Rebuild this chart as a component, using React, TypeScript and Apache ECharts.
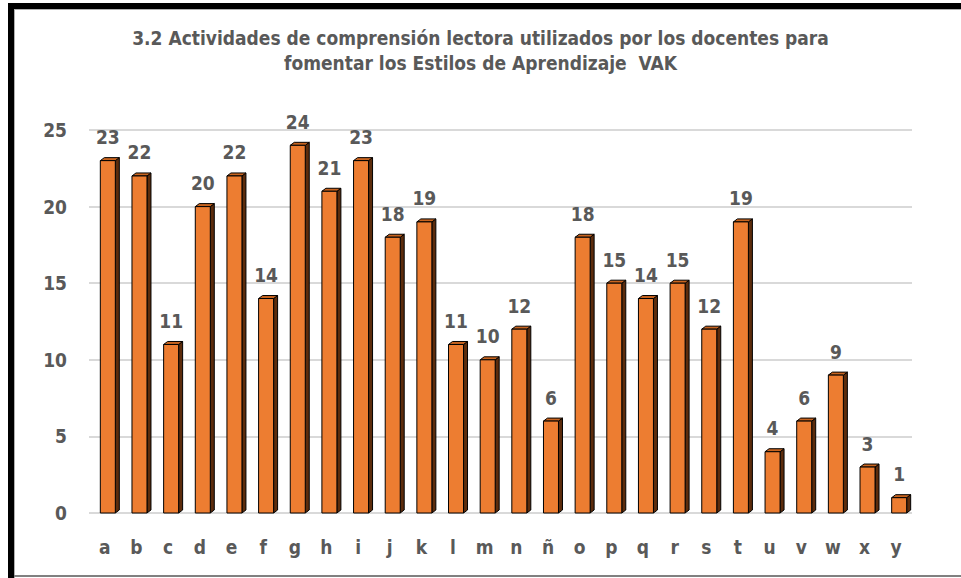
import React, { useEffect, useRef } from "react";
import * as echarts from "echarts";

const categories = ["a","b","c","d","e","f","g","h","i","j","k","l","m","n","ñ","o","p","q","r","s","t","u","v","w","x","y"];
const values = [23,22,11,20,22,14,24,21,23,18,19,11,10,12,6,18,15,14,15,12,19,4,6,9,3,1];
const yTicks = [0,5,10,15,20,25];
const titleLines = [
  "3.2 Actividades de comprensión lectora utilizados por los docentes para",
  "fomentar los Estilos de Aprendizaje  VAK",
];

const FONT = '"Liberation Sans Narrow", "DejaVu Sans Condensed", "Open Sans", sans-serif';
const GRAY = "#595959";

export default function App() {
  const ref = useRef<HTMLDivElement>(null);
  useEffect(() => {
    if (!ref.current) return;
    const chart = echarts.init(ref.current, null, { renderer: "svg" });
    const option: any = {
      animation: false,
      backgroundColor: "#ffffff",
      grid: { left: 89, right: 49, top: 130, bottom: 65, containLabel: false },
      xAxis: {
        type: "category",
        data: categories,
        axisLine: { show: false },
        axisTick: { show: false },
        axisLabel: { color: GRAY, fontFamily: FONT, fontWeight: "bold", fontSize: 19, margin: 24 },
      },
      yAxis: {
        type: "value",
        min: yTicks[0],
        max: yTicks[yTicks.length - 1],
        interval: 5,
        axisLine: { show: false },
        axisTick: { show: false },
        axisLabel: { color: GRAY, fontFamily: FONT, fontWeight: "bold", fontSize: 19, margin: 22 },
        splitLine: { lineStyle: { color: "#d9d9d9", width: 2 } },
      },
      graphic: [
        { type: "rect", shape: { x: 8, y: 3, width: 953, height: 6 }, style: { fill: "#000" }, z: 100 },
        { type: "rect", shape: { x: 8, y: 3, width: 6, height: 575 }, style: { fill: "#000" }, z: 100 },
        { type: "line", shape: { x1: 14, y1: 9.5, x2: 961, y2: 9.5 }, style: { stroke: "#b0b0b0", lineWidth: 1 }, z: 100 },
        { type: "line", shape: { x1: 14.5, y1: 9, x2: 14.5, y2: 578 }, style: { stroke: "#b0b0b0", lineWidth: 1 }, z: 100 },
        { type: "line", shape: { x1: 14, y1: 576, x2: 961, y2: 576 }, style: { stroke: "#808080", lineWidth: 2 }, z: 100 },
        {
          type: "text", left: "center", top: 28,
          style: { text: titleLines[0], fill: GRAY, font: `bold 19px ${FONT}`, textAlign: "center" },
        },
        {
          type: "text", left: "center", top: 53,
          style: { text: titleLines[1], fill: GRAY, font: `bold 19px ${FONT}`, textAlign: "center" },
        },
      ],
      series: [
        {
          type: "custom",
          data: categories.map((c, i) => [i, values[i]]),
          renderItem: (params: any, api: any) => {
            const idx = api.value(0);
            const v = api.value(1);
            const top = api.coord([idx, v]);
            const base = api.coord([idx, 0]);
            const w = 15;
            const d = 4;
            const dy = 3;
            const x0 = top[0] - w / 2 + 3;
            const x1 = x0 + w;
            const yt = top[1];
            const yb = base[1];
            return {
              type: "group",
              children: [
                {
                  type: "polygon",
                  shape: { points: [[x1, yt], [x1 + d, yt - dy], [x1 + d, yb - dy], [x1, yb]] },
                  style: { fill: "#5c2c0c", stroke: "#000", lineWidth: 1 },
                },
                {
                  type: "polygon",
                  shape: { points: [[x0, yt], [x0 + d, yt - dy], [x1 + d, yt - dy], [x1, yt]] },
                  style: { fill: "#c8641f", stroke: "#000", lineWidth: 1 },
                },
                {
                  type: "rect",
                  shape: { x: x0, y: yt, width: w, height: yb - yt },
                  style: { fill: "#ed7d31", stroke: "#000", lineWidth: 1 },
                },
                {
                  type: "text",
                  style: {
                    text: String(v),
                    x: x0 + w / 2,
                    y: yt - 14,
                    textAlign: "center",
                    textVerticalAlign: "bottom",
                    fill: GRAY,
                    font: `bold 19px ${FONT}`,
                  },
                },
              ],
            };
          },
        },
      ],
    };
    chart.setOption(option);
    return () => chart.dispose();
  }, []);
  return (
    <div
      ref={ref}
      style={{ position: "fixed", left: 0, top: 0, width: 961, height: 578 }}
    />
  );
}
